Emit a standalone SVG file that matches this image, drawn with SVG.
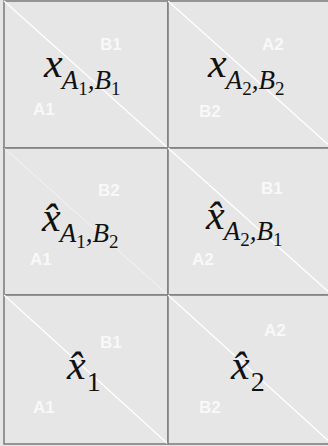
<svg xmlns="http://www.w3.org/2000/svg" width="328" height="446" viewBox="0 0 328 446">
<style>
.bg{fill:#e6e6e6}
.cell{fill:#e6e6e6;stroke:#808080;stroke-width:1.6}
.diag{stroke:#ffffff;stroke-width:1.3}
.faint{stroke:#ffffff;stroke-width:1;opacity:0.6}
.lbl{font-family:"Liberation Sans",Arial,sans-serif;font-size:17px;font-weight:bold;fill:#ffffff;opacity:0.75}
.m{font-family:"Liberation Serif","Times New Roman",serif;fill:#111}
.i{font-style:italic}
.big{font-size:42px}
.sub{font-size:27px}
.ss{font-size:19px}
.n{font-size:28px}
</style>
<rect class="bg" x="0" y="0" width="328" height="446"/>
<g id="cell-a1b1">
<rect class="cell" x="4" y="1" width="164" height="147"/>
<line class="diag" x1="4" y1="1" x2="168" y2="148"/>
<text class="lbl" x="100" y="50">B1</text>
<text class="lbl" x="33" y="115">A1</text>
<text class="m" x="44" y="77"><tspan class="i big">x</tspan><tspan class="i sub" dx="-1" dy="12">A</tspan><tspan class="ss" dy="6">1</tspan><tspan class="i sub" dy="-6">,</tspan><tspan class="i sub">B</tspan><tspan class="ss" dy="6">1</tspan></text>
</g>
<g id="cell-a2b2">
<rect class="cell" x="168" y="1" width="164" height="147"/>
<line class="diag" x1="168" y1="1" x2="332" y2="148"/>
<text class="lbl" x="262" y="50">A2</text>
<text class="lbl" x="199" y="117">B2</text>
<text class="m" x="208" y="77"><tspan class="i big">x</tspan><tspan class="i sub" dx="-1" dy="12">A</tspan><tspan class="ss" dy="6">2</tspan><tspan class="i sub" dy="-6">,</tspan><tspan class="i sub">B</tspan><tspan class="ss" dy="6">2</tspan></text>
</g>
<g id="cell-hat-a1b2">
<rect class="cell" x="4" y="148" width="164" height="147"/>
<line class="faint" x1="4" y1="148" x2="168" y2="295"/>
<text class="lbl" x="98" y="196">B2</text>
<text class="lbl" x="30" y="265">A1</text>
<text class="m" x="42" y="231"><tspan class="i big">x̂</tspan><tspan class="i sub" dx="-1" dy="11">A</tspan><tspan class="ss" dy="6">1</tspan><tspan class="i sub" dy="-6">,</tspan><tspan class="i sub">B</tspan><tspan class="ss" dy="6">2</tspan></text>
</g>
<g id="cell-hat-a2b1">
<rect class="cell" x="168" y="148" width="164" height="147"/>
<line class="diag" x1="168" y1="148" x2="332" y2="295"/>
<text class="lbl" x="261" y="194">B1</text>
<text class="lbl" x="192" y="265">A2</text>
<text class="m" x="206" y="229"><tspan class="i big">x̂</tspan><tspan class="i sub" dx="-1" dy="11">A</tspan><tspan class="ss" dy="6">2</tspan><tspan class="i sub" dy="-6">,</tspan><tspan class="i sub">B</tspan><tspan class="ss" dy="6">1</tspan></text>
</g>
<g id="cell-hat-1">
<rect class="cell" x="4" y="295" width="164" height="149"/>
<line class="diag" x1="4" y1="295" x2="168" y2="444"/>
<text class="lbl" x="100" y="348">B1</text>
<text class="lbl" x="33" y="413">A1</text>
<text class="m" x="67" y="379"><tspan class="i big">x̂</tspan><tspan class="n" dx="1" dy="12">1</tspan></text>
</g>
<g id="cell-hat-2">
<rect class="cell" x="168" y="295" width="164" height="149"/>
<line class="diag" x1="168" y1="295" x2="332" y2="444"/>
<text class="lbl" x="264" y="336">A2</text>
<text class="lbl" x="199" y="413">B2</text>
<text class="m" x="231" y="379"><tspan class="i big">x̂</tspan><tspan class="n" dx="1" dy="12">2</tspan></text>
</g>
<g id="connectors"/>
</svg>
